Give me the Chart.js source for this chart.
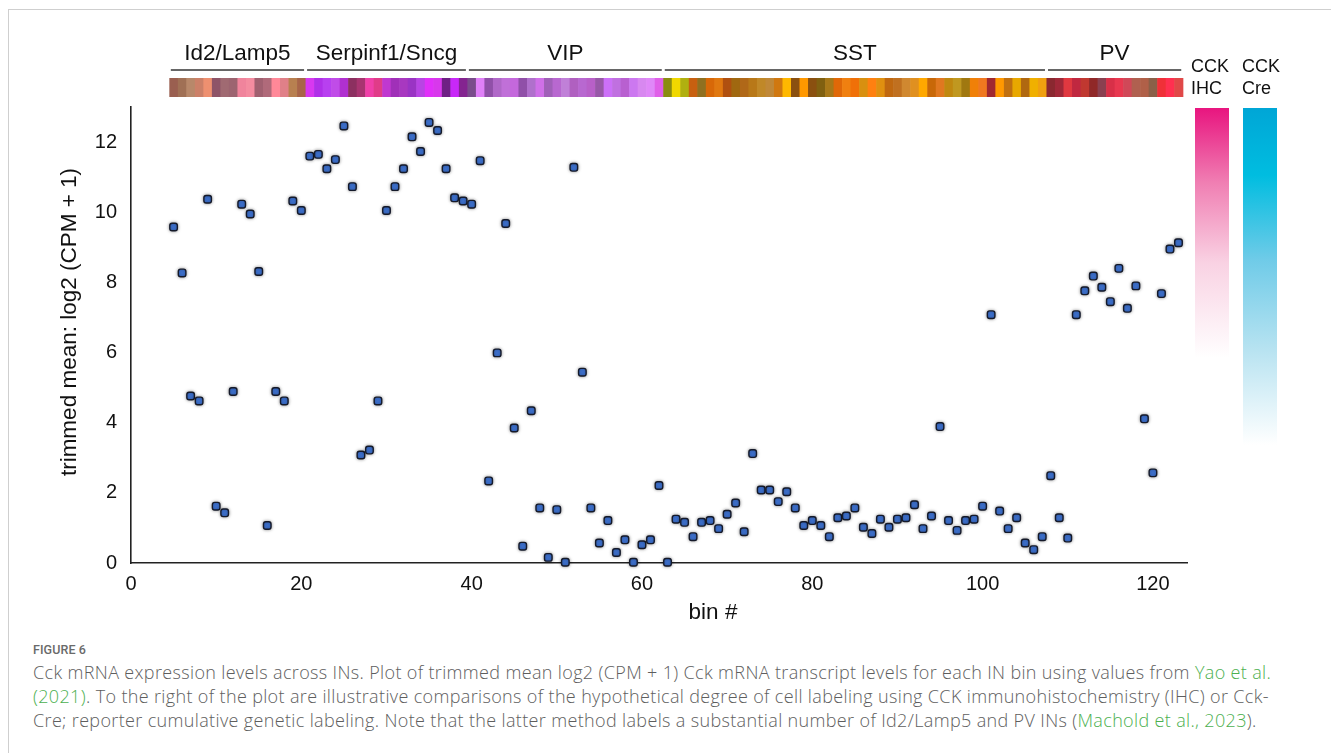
<!DOCTYPE html>
<html>
<head>
<meta charset="utf-8">
<script src="https://cdn.jsdelivr.net/npm/chart.js@4"></script>
<style>
  html, body { margin: 0; padding: 0; background: #fff; }
  body { width: 1331px; height: 753px; position: relative; overflow: hidden; }
  #frame { position: absolute; left: 8px; top: 9px; right: -20px; bottom: -20px; border: 1px solid #cfcfcf; }
  #chart { position: absolute; left: 0; top: 0; }
  #caption { position: absolute; left: 33px; top: 640px; color: #5e5e5e; font-family: "Open Sans", sans-serif; }
  #caption .fig { font-family: Roboto, sans-serif; font-size: 12.5px; font-weight: 500; color: #6a6a6a; letter-spacing: 0.1px; height: 20px; line-height: 20px; }
  #caption .txt { font-size: 18px; font-weight: 300; letter-spacing: 0.35px; line-height: 24px; white-space: nowrap; }
  #caption a { color: #4cb050; text-decoration: none; }
</style>
</head>
<body>
<div id="frame"></div>
<canvas id="chart" width="1331" height="640"></canvas>
<div id="caption">
  <div class="fig">FIGURE 6</div>
  <div class="txt">Cck mRNA expression levels across INs. Plot of trimmed mean log2 (CPM + 1) Cck mRNA transcript levels for each IN bin using values from <a>Yao et al.</a><br><a>(2021)</a>. To the right of the plot are illustrative comparisons of the hypothetical degree of cell labeling using CCK immunohistochemistry (IHC) or Cck-<br>Cre; reporter cumulative genetic labeling. Note that the latter method labels a substantial number of Id2/Lamp5 and PV INs (<a>Machold et al., 2023</a>).</div>
</div>
<script>
// bin numbers (x) and trimmed mean log2(CPM+1) (y)
const bins = [
  5, 6, 7, 8, 9, 10, 11, 12, 13, 14, 15, 16, 17, 18, 19, 20,
  21, 22, 23, 24, 25, 26, 27, 28, 29, 30, 31, 32, 33, 34, 35, 36, 37, 38, 39,
  40, 41, 42, 43, 44, 45, 46, 47, 48, 49, 50, 51, 52, 53, 54, 55, 56, 57, 58, 59, 60, 61, 62,
  63, 64, 65, 66, 67, 68, 69, 70, 71, 72, 73, 74, 75, 76, 77, 78, 79, 80, 81, 82, 83, 84, 85,
  86, 87, 88, 89, 90, 91, 92, 93, 94, 95, 96, 97, 98, 99, 100, 101, 102, 103, 104, 105, 106, 107,
  108, 109, 110, 111, 112, 113, 114, 115, 116, 117, 118, 119, 120, 121, 122, 123
];
const cckLevels = [
  9.58, 8.27, 4.76, 4.62, 10.37, 1.62, 1.43, 4.89, 10.23, 9.95, 8.31, 1.07, 4.89, 4.62, 10.32, 10.05,
  11.60, 11.65, 11.24, 11.50, 12.46, 10.73, 3.08, 3.22, 4.62, 10.05, 10.73, 11.24, 12.15, 11.73, 12.56, 12.33, 11.24, 10.41, 10.32,
  10.23, 11.47, 2.34, 5.99, 9.68, 3.85, 0.48, 4.34, 1.57, 0.16, 1.52, 0.02, 11.28, 5.44, 1.57, 0.57, 1.21, 0.30, 0.66, 0.02, 0.52, 0.66, 2.21,
  0.02, 1.25, 1.16, 0.75, 1.16, 1.21, 0.98, 1.39, 1.71, 0.89, 3.12, 2.08, 2.08, 1.75, 2.03, 1.57, 1.07, 1.21, 1.07, 0.75, 1.29, 1.34, 1.57,
  1.02, 0.84, 1.25, 1.02, 1.25, 1.29, 1.66, 0.98, 1.34, 3.89, 1.21, 0.93, 1.21, 1.25, 1.62, 7.08, 1.48, 0.98, 1.29, 0.57, 0.38, 0.75,
  2.49, 1.29, 0.71, 7.08, 7.76, 8.18, 7.86, 7.45, 8.40, 7.26, 7.90, 4.11, 2.57, 7.68, 8.95, 9.13
];
const xTicks = [0, 20, 40, 60, 80, 100, 120];
const yTicks = [0, 2, 4, 6, 8, 10, 12];

// cell-type groups along the bin axis
const groupNames = ['Id2/Lamp5', 'Serpinf1/Sncg', 'VIP', 'SST', 'PV'];
const groupFirstBin = [5, 21, 40, 63, 108];
const groupLastBin = [20, 39, 62, 107, 123];

// colour of each bin in the top strip
const stripColors = [
  '#9a5f50', '#a07055', '#b8886a', '#cc8068', '#ee9070', '#8e5468', '#a06a72', '#9c6470',
  '#f0849c', '#f48ca0', '#a06070', '#b06a7a', '#ff8898', '#e08088', '#b88050', '#a86448',
  '#d838f0', '#b030e8', '#b840f0', '#c04ce8', '#b030d0', '#8c3060', '#a83470', '#f040a8', '#e03c88',
  '#c038d0', '#a030b8', '#a838c0', '#9a34c4', '#b844e4', '#e030f8', '#d838ec', '#6e2084', '#c828f8', '#842490',
  '#7a4c8c', '#e080f8', '#9050a8', '#b068c8', '#c070d8', '#c468dc', '#9050a8', '#b070cc', '#d070e8', '#a060b8',
  '#b868d0', '#c080d8', '#b060c0', '#b868d0', '#b860c8', '#9858a8', '#cc70f8', '#c070e0', '#b860d0', '#cc78f0',
  '#d888f0', '#e088f8', '#e060e8',
  '#8a8c10', '#f0d800', '#b0b010', '#c86010', '#907020', '#d86808', '#e07810', '#b05010', '#a06810', '#b06818',
  '#b87818', '#c08828', '#c08838', '#d07810', '#ffb800', '#8a5010', '#ff9800', '#8a5010', '#806010', '#a87818',
  '#e06808', '#f08010', '#f07008', '#d89010', '#ff8010', '#e09010', '#c06810', '#c07020', '#d08830', '#e09020',
  '#ffa800', '#c86808', '#e07820', '#c08810', '#c09820', '#a07810', '#f08008', '#f07820', '#a02830', '#ff9800',
  '#c07010', '#e8a800', '#b06810', '#f0b000', '#f0a010',
  '#8a2830', '#a02838', '#e03840', '#c02840', '#c03830', '#902828', '#8a4050', '#d83048',
  '#e83850', '#d04858', '#b06050', '#b06048', '#8a6048', '#f03038', '#ff3050', '#e04848'
];

const FONT = '"Liberation Sans", Arial, sans-serif';

// soft grey halo round the markers
const haloPlugin = {
  id: 'halo',
  beforeDatasetDraw(chart) {
    const ctx = chart.ctx;
    ctx.save();
    ctx.shadowColor = 'rgba(0,0,0,0.4)';
    ctx.shadowBlur = 3.5;
  },
  afterDatasetDraw(chart) {
    chart.ctx.restore();
  }
};

// group labels, colour strip, axis titles and the two labelling gradients
const decorPlugin = {
  id: 'decor',
  afterDraw(chart) {
    const ctx = chart.ctx;
    const xs = chart.scales.x;
    const area = chart.chartArea;
    ctx.save();

    // strip of bin colours
    bins.forEach((b, i) => {
      const x0 = xs.getPixelForValue(b - 0.5);
      const x1 = xs.getPixelForValue(b + 0.5);
      ctx.fillStyle = stripColors[i];
      ctx.fillRect(x0, 78, x1 - x0 + 0.6, 19);
    });

    // group names with rules underneath
    ctx.font = '22.5px ' + FONT;
    ctx.fillStyle = '#111';
    ctx.textAlign = 'center';
    ctx.textBaseline = 'middle';
    ctx.strokeStyle = '#333';
    ctx.lineWidth = 1.6;
    groupNames.forEach((name, g) => {
      const x0 = xs.getPixelForValue(groupFirstBin[g] - 0.5);
      const x1 = xs.getPixelForValue(groupLastBin[g] + 0.5);
      ctx.beginPath();
      ctx.moveTo(x0 + 1.5, 70);
      ctx.lineTo(x1 - 1.5, 70);
      ctx.stroke();
      ctx.fillText(name, (x0 + x1) / 2, 54);
    });

    // axis titles
    ctx.fillText('bin #', 713, 613);
    ctx.save();
    ctx.translate(70, 322);
    ctx.rotate(-Math.PI / 2);
    ctx.fillText('trimmed mean: log2 (CPM + 1)', 0, 0);
    ctx.restore();

    // CCK IHC / CCK Cre gradients
    ctx.font = '18px ' + FONT;
    ctx.textAlign = 'left';
    ctx.fillText('CCK', 1191, 67);
    ctx.fillText('IHC', 1191, 89);
    ctx.fillText('CCK', 1242, 67);
    ctx.fillText('Cre', 1242, 89);

    let grad = ctx.createLinearGradient(0, area.top + 1, 0, 358);
    grad.addColorStop(0, '#e8157f');
    grad.addColorStop(0.3, '#f07fb3');
    grad.addColorStop(0.62, '#f9d2e3');
    grad.addColorStop(1, '#ffffff');
    ctx.fillStyle = grad;
    ctx.fillRect(1195, area.top + 1, 34, 358 - area.top - 1);

    grad = ctx.createLinearGradient(0, area.top + 1, 0, 445);
    grad.addColorStop(0, '#00a6d6');
    grad.addColorStop(0.2, '#00bde0');
    grad.addColorStop(0.45, '#6fcbe8');
    grad.addColorStop(0.72, '#b8e3f1');
    grad.addColorStop(1, '#ffffff');
    ctx.fillStyle = grad;
    ctx.fillRect(1243, area.top + 1, 34, 445 - area.top - 1);

    ctx.restore();
  }
};

new Chart(document.getElementById('chart').getContext('2d'), {
  type: 'scatter',
  data: {
    datasets: [{
      data: bins.map((b, i) => ({ x: b, y: cckLevels[i] })),
      pointStyle: 'rectRounded',
      pointRadius: 4.4,
      pointHoverRadius: 4.4,
      backgroundColor: '#3f74d4',
      borderColor: '#151a2a',
      borderWidth: 1.4,
      clip: false
    }]
  },
  options: {
    responsive: false,
    animation: false,
    events: [],
    layout: { padding: { left: 0, right: 144, top: 107, bottom: 37 } },
    plugins: { legend: { display: false }, tooltip: { enabled: false } },
    scales: {
      x: {
        type: 'linear',
        min: 0,
        max: 124,
        afterBuildTicks: s => { s.ticks = xTicks.map(v => ({ value: v })); },
        afterFit: s => { s.height = 40; },
        grid: { display: false, drawTicks: false },
        border: { display: true, color: '#222', width: 1.6 },
        ticks: { font: { family: FONT, size: 20 }, color: '#111', padding: 9, maxRotation: 0 }
      },
      y: {
        min: 0,
        max: 13,
        afterBuildTicks: s => { s.ticks = yTicks.map(v => ({ value: v })); },
        afterFit: s => { s.width = 131; },
        grid: { display: false, drawTicks: false },
        border: { display: true, color: '#222', width: 1.6 },
        ticks: { font: { family: FONT, size: 20 }, color: '#111', padding: 14 }
      }
    }
  },
  plugins: [haloPlugin, decorPlugin]
});
</script>
</body>
</html>
